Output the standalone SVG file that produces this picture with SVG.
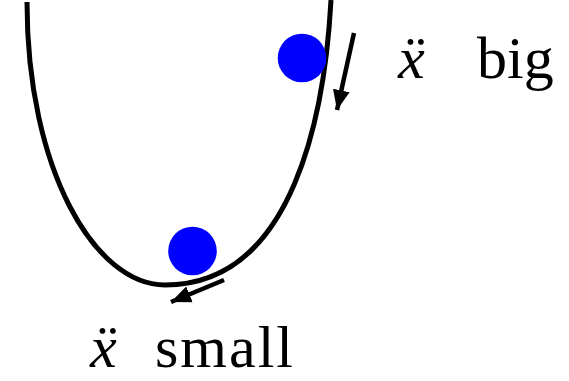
<svg xmlns="http://www.w3.org/2000/svg" width="569" height="381" viewBox="0 0 569 381">
<style>
.curve{fill:none;stroke:#000;stroke-width:5}
.arr{fill:none;stroke:#000;stroke-width:4.5}
.ball{fill:#0000ff}
.lbl{font-family:"Liberation Serif","Times New Roman",serif;font-size:60px;fill:#000}
.var{font-style:italic}
</style>
<defs>
<marker id="ah" markerUnits="userSpaceOnUse" markerWidth="24" markerHeight="24" viewBox="0 0 24 24" refX="20" refY="12" orient="auto">
<path d="M0,3.5 L20,12 L0,20.5 Z" fill="#000"/>
</marker>
</defs>
<g id="bowl">
<path class="curve" d="M27,2 C27,170 95,285 165,285 C295,285 325,110 331,0"/>
</g>
<g id="ball-top"><circle class="ball" cx="302" cy="58" r="24.3"/></g>
<g id="ball-bottom"><circle class="ball" cx="192.5" cy="251" r="24.3"/></g>
<g id="connectors">
<line class="arr" x1="354" y1="33" x2="337" y2="110" marker-end="url(#ah)"/>
<line class="arr" x1="224" y1="280" x2="171" y2="302" marker-end="url(#ah)"/>
</g>
<g id="label-big">
<text class="lbl var" x="398" y="78">x&#x308;</text>
<text class="lbl" x="477" y="78">big</text>
</g>
<g id="label-small">
<text class="lbl var" x="90" y="367">x&#x308;</text>
<text class="lbl" x="155" y="367" textLength="138">small</text>
</g>
</svg>
